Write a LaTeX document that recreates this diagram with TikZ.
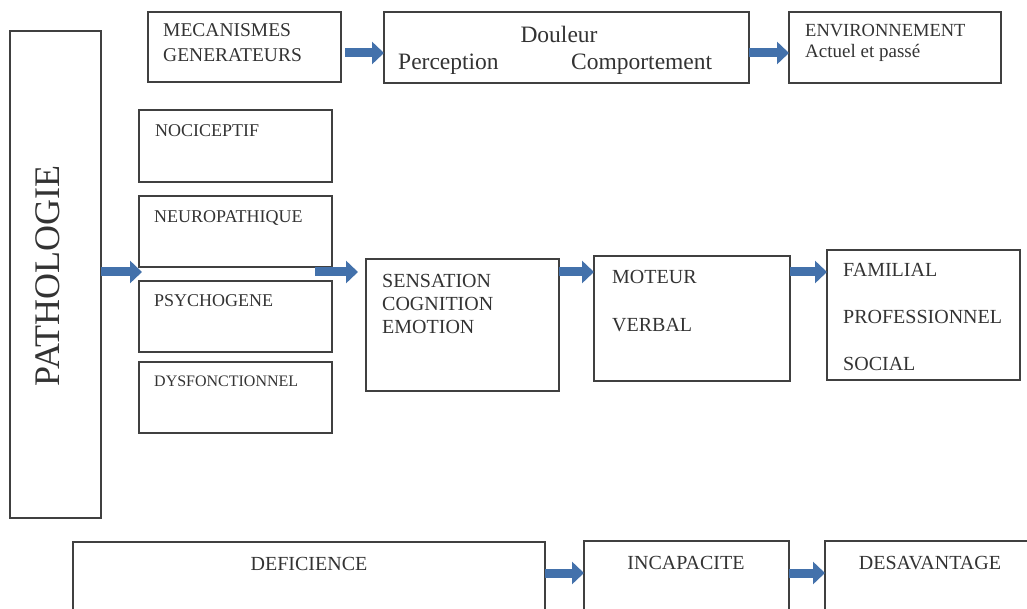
\documentclass[tikz,border=0pt]{standalone}
\usepackage{fontspec}
\setmainfont{Liberation Serif}
\usetikzlibrary{arrows.meta}
\definecolor{trait}{HTML}{404040}
\definecolor{ecrit}{HTML}{333333}
\definecolor{bleu}{HTML}{4371AB}
\newcommand{\taille}[2]{\fontsize{#1}{#2}\selectfont}
\tikzset{
  boite/.style={draw=trait, line width=1.2pt, anchor=north west, inner sep=0pt, outer sep=0pt},
  texte/.style={anchor=base west, inner sep=0pt, text=ecrit, align=left},
  fleche/.style={draw=bleu, line width=9pt, -{Triangle[length=12pt, width=22pt]}}
}

\begin{document}
\begin{tikzpicture}[x=1pt, y=-1pt]
    \useasboundingbox (0,0) rectangle (1027,609);
    \clip (0,0) rectangle (1027,609);

    \node[boite, minimum width=91pt, minimum height=487pt] (patho) at (10,31) {};
    \node[boite, minimum width=193pt, minimum height=70pt] (meca) at (148,12) {};
    \node[boite, minimum width=365pt, minimum height=71pt] (douleur) at (384,12) {};
    \node[boite, minimum width=212pt, minimum height=71pt] (env) at (789,12) {};
    \node[boite, minimum width=193pt, minimum height=72pt] (noci) at (139,110) {};
    \node[boite, minimum width=193pt, minimum height=71pt] (neuro) at (139,196) {};
    \node[boite, minimum width=193pt, minimum height=71pt] (psycho) at (139,281) {};
    \node[boite, minimum width=193pt, minimum height=71pt] (dysf) at (139,362) {};
    \node[boite, minimum width=193pt, minimum height=132pt] (sens) at (366,259) {};
    \node[boite, minimum width=196pt, minimum height=125pt] (moteur) at (594,256) {};
    \node[boite, minimum width=193pt, minimum height=130pt] (social) at (827,250) {};
    \node[boite, minimum width=472pt, minimum height=100pt] (defi) at (73,542) {};
    \node[boite, minimum width=205pt, minimum height=100pt] (incap) at (584,541) {};
    \node[boite, minimum width=230pt, minimum height=100pt] (desav) at (825,541) {};

    \node[texte, rotate=90, anchor=center, font=\taille{36}{40}] (pathotxt) at (47.5,276) {PATHOLOGIE};
    \node[texte, font=\taille{19.5}{25}] (mecatxt) at (163,62) {MECANISMES\\GENERATEURS};
    \node[texte, anchor=base, font=\taille{23.5}{28}] (douleurtxt) at (559,43) {Douleur};
    \node[texte, font=\taille{23.5}{28}] (perception) at (398,70) {Perception};
    \node[texte, font=\taille{23.5}{28}] (comportement) at (571,70) {Comportement};
    \node[texte, font=\taille{18.5}{21}] (envtxt) at (805,37) {ENVIRONNEMENT};
    \node[texte, font=\taille{19}{21}] (actuel) at (805,58) {Actuel et passé};
    \node[texte, font=\taille{18}{22}] (nocitxt) at (155,137) {NOCICEPTIF};
    \node[texte, font=\taille{18}{22}] (neurotxt) at (154,223) {NEUROPATHIQUE};
    \node[texte, font=\taille{18}{22}] (psychotxt) at (154,307) {PSYCHOGENE};
    \node[texte, font=\taille{16}{20}] (dysftxt) at (154,386) {DYSFONCTIONNEL};
    \node[texte, font=\taille{20}{23.5}] (senstxt) at (382,334) {SENSATION\\COGNITION\\EMOTION};
    \node[texte, font=\taille{20}{48}] (moteurtxt) at (612,331) {MOTEUR\\VERBAL};
    \node[texte, font=\taille{20}{46.5}] (socialtxt) at (843,370) {FAMILIAL\\PROFESSIONNEL\\SOCIAL};
    \node[texte, anchor=base, font=\taille{20}{24}] (defitxt) at (309,570) {DEFICIENCE};
    \node[texte, anchor=base, font=\taille{20}{24}] (incaptxt) at (686,569) {INCAPACITE};
    \node[texte, anchor=base, font=\taille{20}{24}] (desavtxt) at (930,569) {DESAVANTAGE};

    \coordinate (haut) at (0,53);
    \coordinate (mil) at (0,272);
    \coordinate (bas) at (0,573);
    \coordinate (depart) at (315,272);

    \draw[fleche, shorten <=4pt] (meca.east |- haut) -- (douleur.west |- haut);
    \draw[fleche] (douleur.east |- haut) -- (env.west |- haut);
    \draw[fleche, shorten >=-3pt] (patho.east |- mil) -- (neuro.west |- mil);
    \draw[fleche, shorten >=8pt] (depart) -- (sens.west |- mil);
    \draw[fleche] (sens.east |- mil) -- (moteur.west |- mil);
    \draw[fleche] (moteur.east |- mil) -- (social.west |- mil);
    \draw[fleche] (defi.east |- bas) -- (incap.west |- bas);
    \draw[fleche] (incap.east |- bas) -- (desav.west |- bas);
\end{tikzpicture}
\end{document}
